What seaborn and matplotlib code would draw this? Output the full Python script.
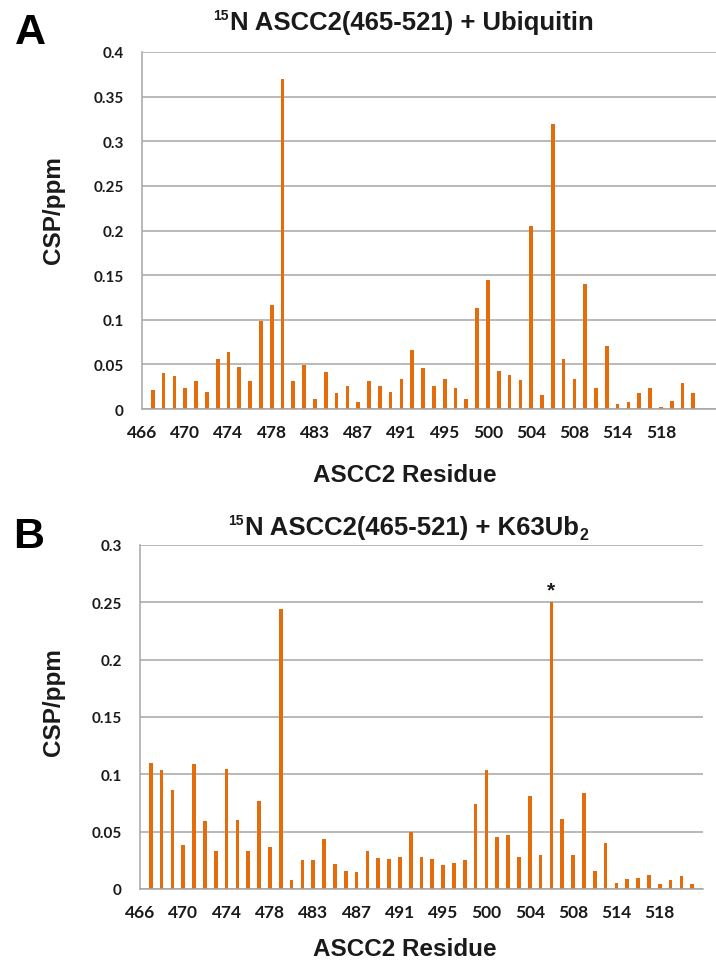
import matplotlib
matplotlib.use("Agg")
import matplotlib.pyplot as plt
import numpy as np
import pandas as pd
import seaborn as sns

# residues on the x axis (a few missing residues are skipped by the category axis)
residues = (list(range(466, 479)) + [479, 480, 482] + list(range(483, 496))
            + [496, 497, 499] + list(range(500, 511)) + [513] + list(range(514, 522)))
tick_labels = ["466", "470", "474", "478", "483", "487", "491", "495",
               "500", "504", "508", "514", "518", ""]

csp_ub = [0.0, 0.021, 0.040, 0.037, 0.024, 0.031, 0.019, 0.056, 0.064, 0.047,
          0.031, 0.099, 0.117, 0.370, 0.031, 0.049, 0.011, 0.041, 0.018, 0.026,
          0.0075, 0.031, 0.026, 0.019, 0.034, 0.066, 0.046, 0.026, 0.034, 0.023,
          0.011, 0.113, 0.144, 0.043, 0.038, 0.032, 0.205, 0.016, 0.319, 0.056,
          0.034, 0.140, 0.023, 0.071, 0.006, 0.0075, 0.018, 0.024, 0.002, 0.0086,
          0.029, 0.018]

csp_k63 = [0.0, 0.110, 0.104, 0.086, 0.038, 0.109, 0.059, 0.033, 0.105, 0.060,
           0.033, 0.077, 0.037, 0.244, 0.0075, 0.025, 0.025, 0.044, 0.022, 0.016,
           0.015, 0.033, 0.027, 0.026, 0.028, 0.050, 0.028, 0.026, 0.021, 0.023,
           0.025, 0.074, 0.104, 0.0455, 0.047, 0.028, 0.0815, 0.030, 0.250, 0.061,
           0.030, 0.0835, 0.016, 0.040, 0.005, 0.0087, 0.010, 0.012, 0.0046, 0.008,
           0.011, 0.0046]

yticks_a = [0, 0.05, 0.1, 0.15, 0.2, 0.25, 0.3, 0.35, 0.4]
yticks_b = [0, 0.05, 0.1, 0.15, 0.2, 0.25, 0.3]
star_residue = 506

sns.set_theme(style="white")
plt.rcParams["font.family"] = ["Liberation Sans", "DejaVu Sans"]

orange = "#e46c0a"
grid_col = "#a6a6a6"
ink = "#1a1a1a"
W, H = 716, 970

fig = plt.figure(figsize=(7.16, 9.70), dpi=100)


def px_axes(left, top, right, bottom):
    return fig.add_axes([left / W, 1 - bottom / H, (right - left) / W, (bottom - top) / H])


def panel(ax, values, yticks, xmax):
    df = pd.DataFrame({"residue": [str(r) for r in residues], "csp": values})
    sns.barplot(data=df, x="residue", y="csp", color=orange, saturation=1,
                width=0.34, linewidth=0, ax=ax)
    ax.set_xlim(0, xmax)
    ax.set_ylim(0, yticks[-1])
    ax.set_xticks(range(0, 53, 4))
    ax.set_xticklabels(tick_labels, fontsize=12.5, fontweight="bold",
                       family=["Lato", "DejaVu Sans"], color=ink)
    ax.set_yticks(yticks)
    ax.set_yticklabels([f"{t:g}" for t in yticks], fontsize=11, fontweight="bold",
                       family=["Lato", "DejaVu Sans"], color=ink)
    ax.tick_params(axis="x", direction="inout", length=8, width=1, color=grid_col, pad=7)
    ax.tick_params(axis="y", direction="out", length=6, width=1, color=grid_col, pad=7)
    ax.yaxis.grid(True, color=grid_col, lw=1.1)
    ax.set_axisbelow(True)
    for s in ["top", "right"]:
        ax.spines[s].set_visible(False)
    for s in ["left", "bottom"]:
        ax.spines[s].set_color(grid_col)
        ax.spines[s].set_linewidth(1.1)
    ax.set_xlabel("")
    ax.set_ylabel("")


ax_a = px_axes(142, 53, 716, 410)
panel(ax_a, csp_ub, yticks_a, 53.1)

ax_b = px_axes(140, 546, 703, 890)
panel(ax_b, csp_k63, yticks_b, 52)
star_idx = residues.index(star_residue)
ax_b.text(star_idx, csp_k63[star_idx] + 0.003, "*", ha="center", va="bottom",
          fontsize=15, fontweight="bold", color=ink)


# titles with a small superscript / subscript drawn as separate texts
def title(baseline, main, sub=None):
    yb = 1 - baseline / H
    t = fig.text(412 / W, yb, main, ha="center", va="baseline",
                 fontsize=18.5, fontweight="bold", color=ink)
    bb = t.get_window_extent(fig.canvas.get_renderer())
    fig.text(bb.x0 / W - 1 / W, yb + 10 / H, "15", ha="right", va="baseline",
             fontsize=10, fontweight="bold", color=ink)
    if sub:
        fig.text(bb.x1 / W + 1 / W, yb - 5 / H, sub, ha="left", va="baseline",
                 fontsize=11.5, fontweight="bold", color=ink)


title(30, "N ASCC2(465-521) + Ubiquitin")
title(535, "N ASCC2(465-521) + K63Ub", "2")

for yc in (476, 950):
    fig.text(405 / W, 1 - yc / H, "ASCC2 Residue", ha="center", va="center",
             fontsize=17.5, fontweight="bold", color=ink)
for yc in (210, 702):
    fig.text(53 / W, 1 - yc / H, "CSP/ppm", ha="center", va="center",
             rotation=90, fontsize=17.5, fontweight="bold", color=ink)
fig.text(30 / W, 1 - 33 / H, "A", ha="center", va="center", fontsize=31,
         fontweight="bold", color="black")
fig.text(29 / W, 1 - 537 / H, "B", ha="center", va="center", fontsize=31,
         fontweight="bold", color="black")

fig.savefig("out.png", dpi=100)
